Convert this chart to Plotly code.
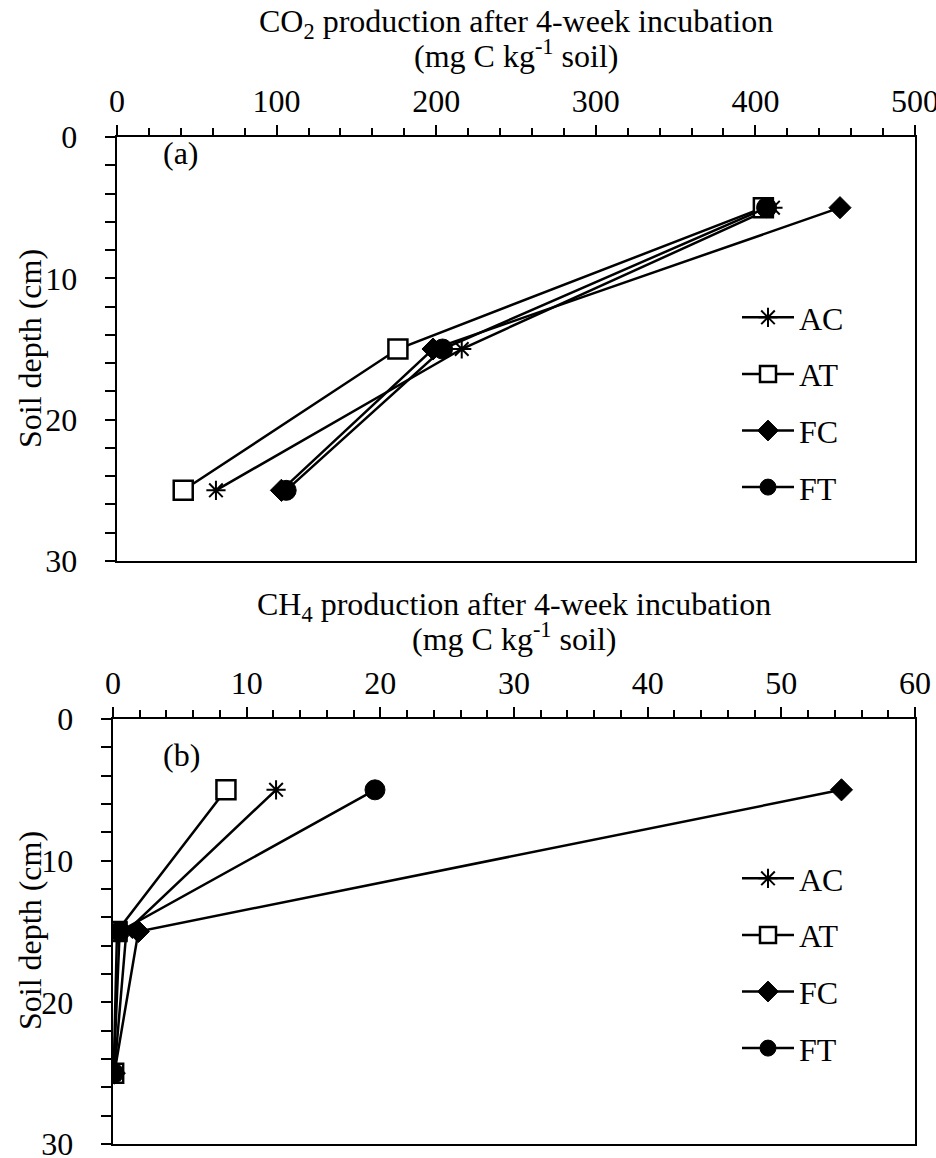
import plotly.graph_objects as go

W, H = 936, 1158
FONT = "Liberation Serif"
FS = 32

# Sampling depths (cm)
depth = [5, 15, 25]

# CO2 production (mg C kg-1 soil)
co2_AC = [411, 216, 62]
co2_AT = [405, 176, 41.5]
co2_FC = [453, 198, 103]
co2_FT = [407, 204, 106]

# CH4 production (mg C kg-1 soil)
ch4_AC = [12.2, 1.0, 0.1]
ch4_AT = [8.45, 0.3, 0.05]
ch4_FC = [54.5, 1.9, 0.1]
ch4_FT = [19.6, 0.5, 0.05]

treatments = ["AC", "AT", "FC", "FT"]
co2 = [co2_AC, co2_AT, co2_FC, co2_FT]
ch4 = [ch4_AC, ch4_AT, ch4_FC, ch4_FT]

markers = {
    "AC": dict(symbol="asterisk-open", size=16, color="black", line=dict(color="black", width=2)),
    "AT": dict(symbol="square", size=19, color="white", line=dict(color="black", width=2.5)),
    "FC": dict(symbol="diamond", size=17, color="black", line=dict(color="black", width=1)),
    "FT": dict(symbol="circle", size=20, color="black", line=dict(color="black", width=1)),
}


def px(x=None, y=None):
    """Convert pixel position to paper coordinates."""
    if x is not None:
        return x / W
    return 1 - y / H


fig = go.Figure()

for name, vals in zip(treatments, co2):
    fig.add_trace(go.Scatter(
        x=vals, y=depth, name=name, mode="lines+markers",
        line=dict(color="black", width=2.5), marker=markers[name],
        xaxis="x", yaxis="y", legend="legend", legendgroup="a" + name,
    ))

for name, vals in zip(treatments, ch4):
    fig.add_trace(go.Scatter(
        x=vals, y=depth, name=name, mode="lines+markers",
        line=dict(color="black", width=2.5), marker=markers[name],
        xaxis="x2", yaxis="y2", legend="legend2", legendgroup="b" + name,
    ))

tick_font = dict(family=FONT, size=FS, color="black")

common_x = dict(
    side="top", showline=True, linecolor="black", linewidth=2, mirror=True,
    ticks="outside", ticklen=10, tickwidth=1.5, tickcolor="black",
    minor=dict(ticks="outside", ticklen=7, tickwidth=1.5, tickcolor="black"),
    showgrid=False, zeroline=False, tickfont=tick_font,
    automargin=False, ticklabeloverflow="allow",
)
common_y = dict(
    showline=True, linecolor="black", linewidth=2, mirror=True,
    ticks="outside", ticklen=10, tickwidth=1.5, tickcolor="black",
    minor=dict(ticks="outside", ticklen=10, tickwidth=1.5, tickcolor="black", dtick=2),
    showgrid=False, zeroline=False, tickfont=tick_font,
    ticksuffix="\u2002\u2006",
    range=[30, 0], dtick=10, tick0=0, automargin=False, ticklabeloverflow="allow",
)

legend_common = dict(
    xanchor="left", yanchor="top", font=dict(family=FONT, size=FS),
    bgcolor="rgba(0,0,0,0)", tracegroupgap=12, itemwidth=52,
)

fig.update_layout(
    width=W, height=H,
    margin=dict(l=0, r=0, t=0, b=0, autoexpand=False),
    paper_bgcolor="white", plot_bgcolor="white",
    font=dict(family=FONT, size=FS, color="black"),
    xaxis=dict(common_x, domain=[px(x=117), px(x=915)], range=[0, 500], dtick=100,
               minor=dict(common_x["minor"], dtick=20), anchor="y"),
    yaxis=dict(common_y, domain=[px(y=561), px(y=137)], anchor="x"),
    xaxis2=dict(common_x, domain=[px(x=113), px(x=915)], range=[0, 60], dtick=10,
                minor=dict(common_x["minor"], dtick=2), anchor="y2"),
    yaxis2=dict(common_y, domain=[px(y=1144), px(y=719)], anchor="x2"),
    legend=dict(legend_common, x=px(x=737), y=px(y=290)),
    legend2=dict(legend_common, x=px(x=737), y=px(y=851)),
    showlegend=True,
)

annotations = [
    ("CO<sub>2</sub> production after 4-week incubation", 516, 23, 0),
    ("(mg C kg<sup>-1</sup> soil)", 516, 54, 0),
    ("CH<sub>4</sub> production after 4-week incubation", 514, 606, 0),
    ("(mg C kg<sup>-1</sup> soil)", 514, 637, 0),
    ("Soil depth (cm)", 30, 349, -90),
    ("Soil depth (cm)", 30, 931, -90),
    ("(a)", 181, 153, 0),
    ("(b)", 181, 755, 0),
]
for text, ax, ay, ang in annotations:
    fig.add_annotation(
        text=text, x=px(x=ax), y=px(y=ay), xref="paper", yref="paper",
        xanchor="center", yanchor="middle", showarrow=False, textangle=ang,
        font=dict(family=FONT, size=FS, color="black"),
    )

fig.write_html("out.html")
